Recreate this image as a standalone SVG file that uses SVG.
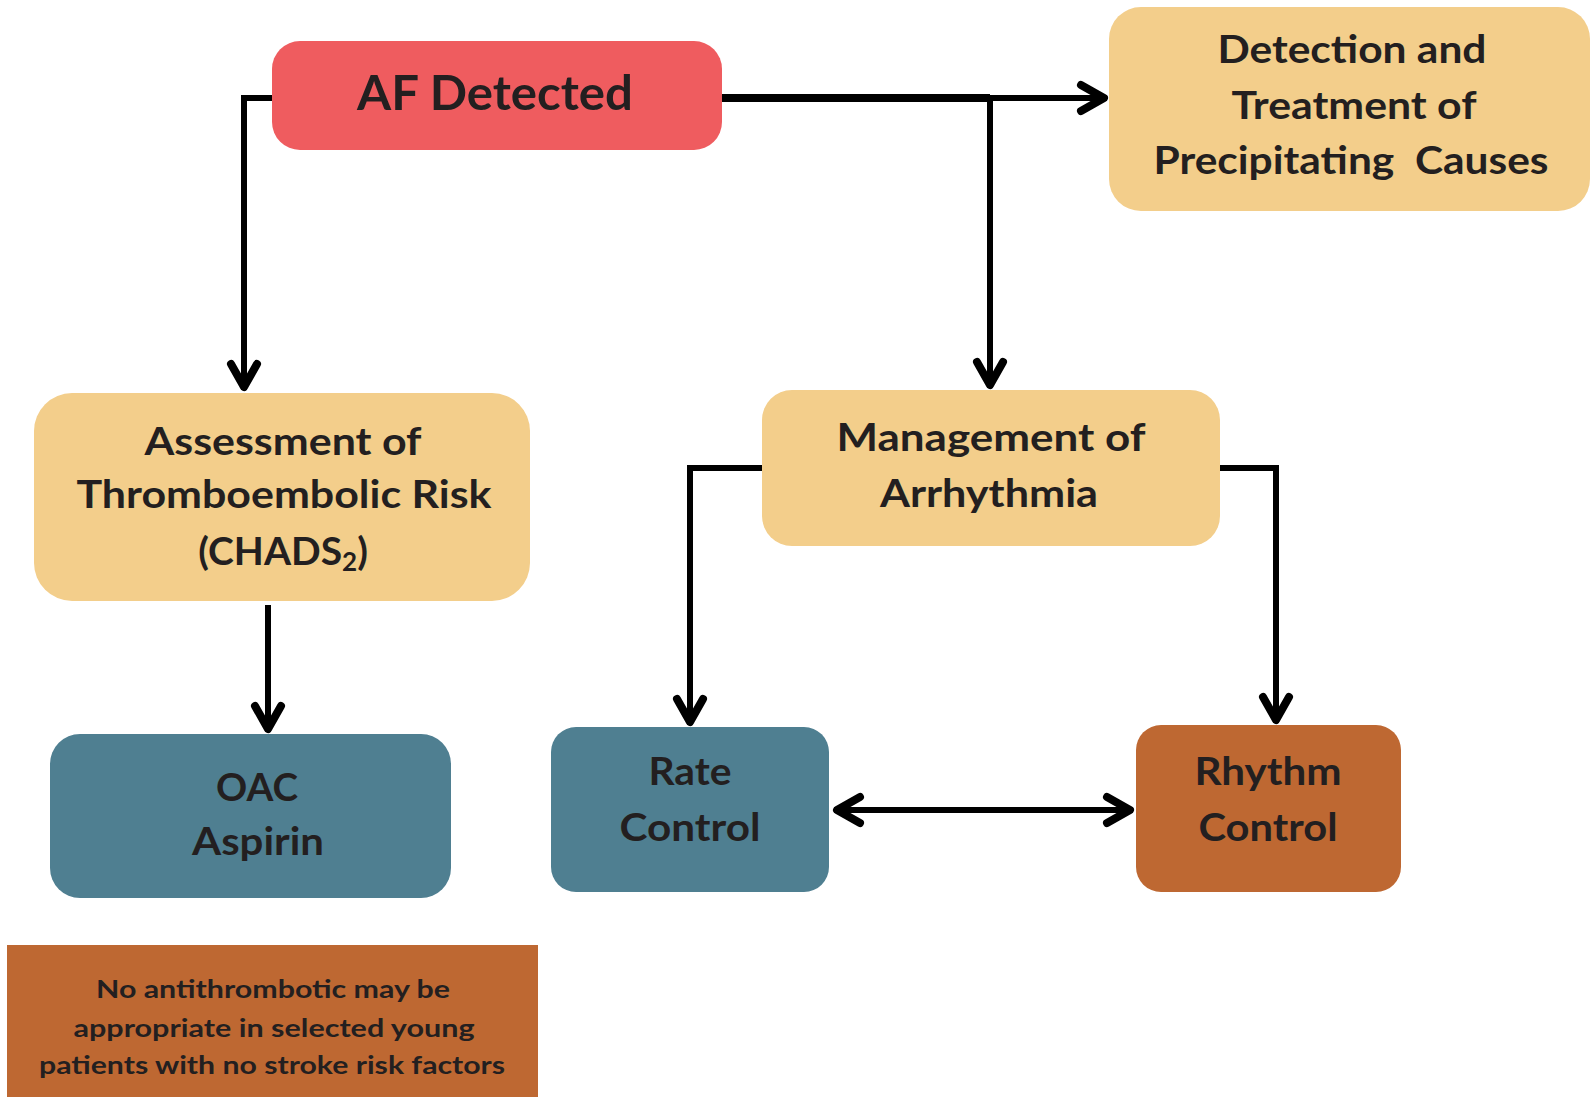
<svg xmlns="http://www.w3.org/2000/svg" width="1591" height="1097" viewBox="0 0 1591 1097">
<style>
  .lbl { font-family: Lato, "Open Sans", "Liberation Sans", sans-serif; font-weight: 700; font-size: 39px; fill: #231F20; text-anchor: middle; }
  .big { font-weight: 700; font-size: 47px; }
  .small { font-size: 25px; }
  .red { fill: #EF5C5F; }
  .beige { fill: #F3CE8B; }
  .teal { fill: #4F7F91; }
  .brown { fill: #BE6832; }
  .conn { fill: none; stroke: #000; stroke-width: 6; stroke-linejoin: miter; }
</style>
<defs>
  <marker id="arr" markerUnits="userSpaceOnUse" markerWidth="44" markerHeight="44" viewBox="-36 -22 44 44" refX="0" refY="0" orient="auto-start-reverse">
    <path d="M -26,-13 L -3,0 L -26,13" fill="none" stroke="#000" stroke-width="8" stroke-linecap="round" stroke-linejoin="round"/>
  </marker>
</defs>
<rect width="1591" height="1097" fill="#fff"/>

<g id="connectors">
  <path class="conn" d="M 272,98 H 244 V 390" marker-end="url(#arr)"/>
  <path class="conn" d="M 722,98 H 990" style="stroke-width:8"/>
  <path class="conn" d="M 985,98 H 1107" marker-end="url(#arr)"/>
  <path class="conn" d="M 990,98 V 388" marker-end="url(#arr)"/>
  <path class="conn" d="M 268,605 V 732" marker-end="url(#arr)"/>
  <path class="conn" d="M 762,468 H 690 V 725" marker-end="url(#arr)"/>
  <path class="conn" d="M 1220,468 H 1276 V 723" marker-end="url(#arr)"/>
  <path class="conn" d="M 834,810 H 1133" marker-start="url(#arr)" marker-end="url(#arr)"/>
</g>

<g id="af-detected">
  <rect class="red" x="272" y="41" width="450" height="109" rx="28"/>
  <text class="lbl big" x="495" y="110" textLength="276" lengthAdjust="spacingAndGlyphs">AF Detected</text>
</g>

<g id="detection">
  <rect class="beige" x="1109" y="7" width="481" height="204" rx="32"/>
  <text class="lbl" x="1352" y="63" textLength="269" lengthAdjust="spacingAndGlyphs">Detection and</text>
  <text class="lbl" x="1354" y="119" textLength="245" lengthAdjust="spacingAndGlyphs">Treatment of</text>
  <text class="lbl" x="1351" y="174" textLength="395" lengthAdjust="spacingAndGlyphs" xml:space="preserve">Precipitating  Causes</text>
</g>

<g id="assessment">
  <rect class="beige" x="34" y="393" width="496" height="208" rx="38"/>
  <text class="lbl" x="283" y="455" textLength="277" lengthAdjust="spacingAndGlyphs">Assessment of</text>
  <text class="lbl" x="284" y="508" textLength="415" lengthAdjust="spacingAndGlyphs">Thromboembolic Risk</text>
  <text class="lbl" x="283" y="565">(CHADS<tspan font-size="26" dy="6">2</tspan><tspan dy="-6">)</tspan></text>
</g>

<g id="oac">
  <rect class="teal" x="50" y="734" width="401" height="164" rx="30"/>
  <text class="lbl" x="257" y="801" textLength="82" lengthAdjust="spacingAndGlyphs">OAC</text>
  <text class="lbl" x="258" y="855" textLength="132" lengthAdjust="spacingAndGlyphs">Aspirin</text>
</g>

<g id="note">
  <rect class="brown" x="7" y="945" width="531" height="160"/>
  <text class="lbl small" x="273" y="998" textLength="354" lengthAdjust="spacingAndGlyphs">No antithrombotic may be</text>
  <text class="lbl small" x="274" y="1037" textLength="401" lengthAdjust="spacingAndGlyphs">appropriate in selected young</text>
  <text class="lbl small" x="272" y="1074" textLength="466" lengthAdjust="spacingAndGlyphs">patients with no stroke risk factors</text>
</g>

<g id="management">
  <rect class="beige" x="762" y="390" width="458" height="156" rx="30"/>
  <text class="lbl" x="991" y="451" textLength="309" lengthAdjust="spacingAndGlyphs">Management of</text>
  <text class="lbl" x="989" y="507" textLength="218" lengthAdjust="spacingAndGlyphs">Arrhythmia</text>
</g>

<g id="rate-control">
  <rect class="teal" x="551" y="727" width="278" height="165" rx="25"/>
  <text class="lbl" x="690" y="785" textLength="83" lengthAdjust="spacingAndGlyphs">Rate</text>
  <text class="lbl" x="690" y="841" textLength="141" lengthAdjust="spacingAndGlyphs">Control</text>
</g>

<g id="rhythm-control">
  <rect class="brown" x="1136" y="725" width="265" height="167" rx="25"/>
  <text class="lbl" x="1268" y="785" textLength="147" lengthAdjust="spacingAndGlyphs">Rhythm</text>
  <text class="lbl" x="1268" y="841" textLength="139" lengthAdjust="spacingAndGlyphs">Control</text>
</g>
</svg>
